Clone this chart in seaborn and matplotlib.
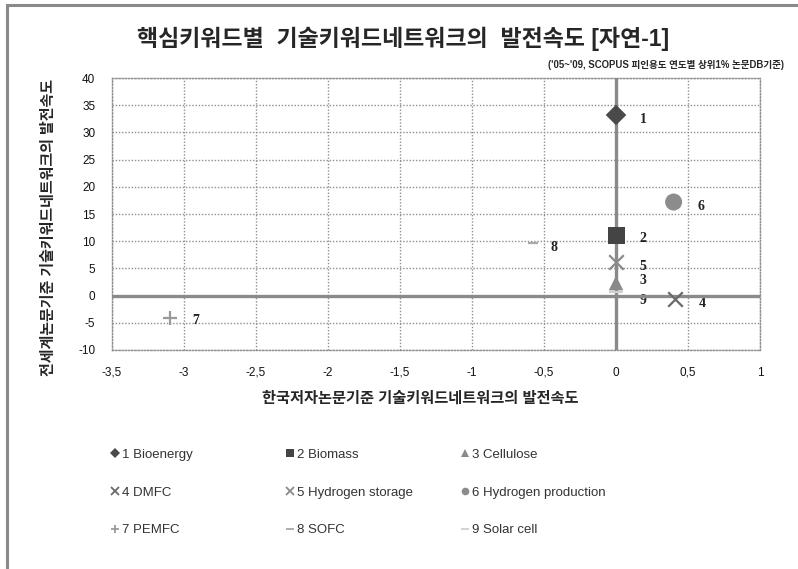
import matplotlib
matplotlib.use("Agg")
import matplotlib.pyplot as plt
import matplotlib.patches as mpatches
from matplotlib.lines import Line2D
import seaborn as sns
import pandas as pd

# data
labels = ['1', '2', '3', '4', '5', '6', '7', '8', '9']
names = ['Bioenergy', 'Biomass', 'Cellulose', 'DMFC', 'Hydrogen storage',
         'Hydrogen production', 'PEMFC', 'SOFC', 'Solar cell']
x_kr = [0, 0, 0, 0.41, 0, 0.40, -3.10, -0.58, 0]
y_world = [33.2, 11.0, 2.3, -0.6, 6.2, 17.2, -4.1, 9.6, 0.6]

xticks = [-3.5, -3, -2.5, -2, -1.5, -1, -0.5, 0, 0.5, 1]
yticks = [-10, -5, 0, 5, 10, 15, 20, 25, 30, 35, 40]

markers = ['D', 's', '^', 'x', 'x', 'o', '+', '_', '_']
colors = ['#4a4a4a', '#444444', '#8a8a8a', '#6a6a6a', '#8a8a8a',
          '#8c8c8c', '#9a9a9a', '#a8a8a8', '#d0d0d0']
sizes = [110, 150, 110, 110, 110, 150, 110, 60, 110]
# offsets of the point numbers (pt), as placed in the reference
label_dx = [17, 17, 17, 17, 17, 17, 16, 13, 17]
label_dy = [-3, -2, 2, -3, -3, -3, -2, -3, -6]

df = pd.DataFrame({'label': labels, 'name': names, 'x': x_kr, 'y': y_world})

sns.set_theme(style="white")
plt.rcParams['font.family'] = ['Liberation Sans', 'Noto Sans CJK KR']

fig = plt.figure(figsize=(7.98, 5.69), dpi=100)
ax = fig.add_axes([0.1404, 0.3849, 0.812, 0.478])

# outer frame (only top/left visible in the crop)
fig.patches.append(mpatches.Rectangle((7 / 798, -0.1), 1.2, 1 - 5 / 569 + 0.1,
                                      transform=fig.transFigure, fill=False,
                                      edgecolor='#8a8a8a', linewidth=2.2))

for i, row in df.iterrows():
    line_art = markers[i] in ('x', '+', '_')
    sns.scatterplot(x=[row['x']], y=[row['y']], marker=markers[i], color=colors[i],
                    s=sizes[i], linewidth=1.6 if line_art else 0,
                    edgecolor=colors[i] if line_art else 'none',
                    ax=ax, zorder=5, legend=False)
    ax.annotate(row['label'], (row['x'], row['y']), xytext=(label_dx[i], label_dy[i]),
                textcoords='offset points', fontsize=10, fontweight='bold',
                family='Liberation Serif', va='center', color='#222222')

ax.set_xlim(-3.5, 1)
ax.set_ylim(-10, 40)
ax.set_xticks(xticks)
ax.set_yticks(yticks)
ax.set_xticklabels([('%g' % t).replace('.', ',') for t in xticks], fontsize=8.5)
ax.set_yticklabels(['%g' % t for t in yticks], fontsize=8.5)
ax.tick_params(length=0, pad=12, colors='#111111')
ax.grid(True, color='#8f8f8f', linestyle=(0, (1, 1.3)), linewidth=1)
for sp in ax.spines.values():
    sp.set_linestyle((0, (1, 1.3)))
    sp.set_color('#8f8f8f')
    sp.set_linewidth(1)
ax.axhline(0, color='#8a8a8a', linewidth=2.4, zorder=3)
ax.axvline(0, color='#8a8a8a', linewidth=2.4, zorder=3)

ax.set_xlabel('한국저자논문기준 기술키워드네트워크의 발전속도', fontsize=11,
              fontweight='bold')
ax.set_ylabel('전세계논문기준 기술키워드네트워크의 발전속도', fontsize=10.8,
              fontweight='bold')
ax.xaxis.set_label_coords(0.475, -0.152)
ax.yaxis.set_label_coords(-0.087, 0.449)

fig.text(0.505, 0.932, '핵심키워드별  기술키워드네트워크의  발전속도 [자연-1]',
         ha='center', va='center', fontsize=16.5, fontweight='heavy')
fig.text(0.982, 0.885, "('05~'09, SCOPUS 피인용도 연도별 상위1% 논문DB기준)",
         ha='right', va='center', fontsize=6.9, fontweight='bold')

# legend: three columns
handles = []
for i in range(9):
    filled = markers[i] not in ('x', '+', '_')
    handles.append(Line2D([], [], linestyle='none', marker=markers[i], color=colors[i],
                          markersize=5.5, markeredgewidth=0 if filled else 1.3))
col_x = [104 / 798, 279 / 798, 454 / 798]
for c in range(3):
    idx = [c, c + 3, c + 6]
    fig.legend([handles[k] for k in idx],
               ['%s %s' % (labels[k], names[k]) for k in idx],
               loc='upper left', bbox_to_anchor=(col_x[c], 1 - 442 / 569),
               frameon=False, fontsize=9.5, labelspacing=1.93,
               handlelength=0.6, handletextpad=0.3, borderpad=0,
               labelcolor='#333333')

fig.savefig('out.png', dpi=100)
